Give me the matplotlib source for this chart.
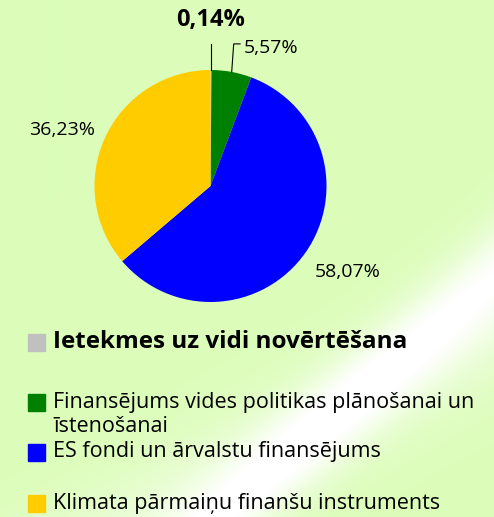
import numpy as np
import matplotlib.pyplot as plt
from matplotlib.patches import Rectangle

plt.rcParams['font.family'] = ['Open Sans', 'DejaVu Sans']

categories = [
    "Ietekmes uz vidi novērtēšana",
    "Finansējums vides politikas plānošanai un\nīstenošanai",
    "ES fondi un ārvalstu finansējums",
    "Klimata pārmaiņu finanšu instruments",
]
shares = [0.14, 5.57, 58.07, 36.23]
colors = ["#C0C0C0", "#008000", "#0000FF", "#FFCC00"]

W, H = 494, 517
fig = plt.figure(figsize=(W / 100, H / 100), dpi=100)

# background: pale green with soft white diagonal streaks
bg = fig.add_axes([0, 0, 1, 1])
bg.set_xlim(0, W)
bg.set_ylim(H, 0)
bg.axis("off")
yy, xx = np.mgrid[0:H, 0:W]
base = np.array([220, 253, 186]) / 255.0

def streak(x0, y0, x1, y1, width):
    dx, dy = x1 - x0, y1 - y0
    n = np.hypot(dx, dy)
    d = np.abs((xx - x0) * dy - (yy - y0) * dx) / n
    return np.exp(-(d / width) ** 2)

glow = 0.85 * streak(170, 560, 520, 250, 38) + 0.35 * streak(60, 560, 494, 330, 55)
glow = np.clip(glow, 0, 1)[..., None]
img = base * (1 - glow) + glow
bg.imshow(img, extent=(0, W, H, 0), zorder=0)

# pie
cx, cy, r = 210.5, 186, 116
pax = fig.add_axes([(cx - r) / W, (H - cy - r) / H, 2 * r / W, 2 * r / H])
pax.set_aspect("equal")
wedges, _ = pax.pie(shares, colors=colors, startangle=90, counterclock=False,
                    radius=1, wedgeprops=dict(linewidth=0))
pax.set_xlim(-1, 1)
pax.set_ylim(-1, 1)
for w in wedges:
    w.set_clip_on(False)

def lbl(v):
    return f"{v:.2f}%".replace(".", ",")

# leader lines for the two small slices
a0 = np.deg2rad(90 - shares[0] / 2 * 3.6)
pax.plot([np.cos(a0), np.cos(a0)], [np.sin(a0), 1.22], color="black", lw=0.8, clip_on=False)
a1 = np.deg2rad(90 - (shares[0] + shares[1] / 2) * 3.6)
pax.plot([np.cos(a1), 0.2, 0.255], [np.sin(a1), 1.225, 1.225], color="black", lw=0.8, clip_on=False)

pax.text(0, 1.43, lbl(shares[0]), ha="center", va="center", fontsize=17, fontweight="bold")
pax.text(0.29, 1.19, lbl(shares[1]), ha="left", va="center", fontsize=14)
pax.text(1.185, -0.74, lbl(shares[2]), ha="center", va="center", fontsize=14)
pax.text(-1.28, 0.48, lbl(shares[3]), ha="center", va="center", fontsize=14)

# legend
rows = [342, 402, 452, 503]
for i, (lab, col, yc) in enumerate(zip(categories, colors, rows)):
    bg.add_patch(Rectangle((28, yc - 8.5), 17, 17, color=col, zorder=2))
    if i == 0:
        bg.text(53, yc, lab, fontsize=17.5, fontweight="bold", va="center", ha="left")
    elif "\n" in lab:
        bg.text(53, yc - 10, lab, fontsize=15.5, va="top", ha="left", linespacing=1.17)
    else:
        bg.text(53, yc, lab, fontsize=15.5, va="center", ha="left")

fig.savefig("out.png", dpi=100)
